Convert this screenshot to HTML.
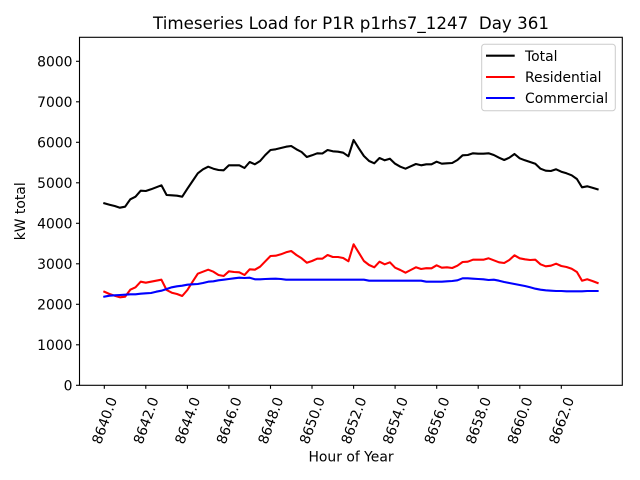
<!DOCTYPE html>
<html><head><meta charset="utf-8"><style>
html,body{margin:0;padding:0;background:#fff;}
svg{display:block;font-family:"DejaVu Sans","Liberation Sans",sans-serif;}
</style></head><body>
<svg width="640" height="480" viewBox="0 0 640 480" xmlns="http://www.w3.org/2000/svg">
<rect width="640" height="480" fill="#fff"/>
<text x="351" y="29" font-size="16.7" text-anchor="middle" fill="#000">Timeseries Load for P1R p1rhs7_1247&#160; Day 361</text>
<g fill="none" stroke-width="2.08" stroke-linejoin="round" stroke-linecap="square">
<polyline stroke="#000" points="104.3,203.3 109.5,204.7 114.7,206 119.9,207.7 125.1,206.7 130.3,199.3 135.5,196.7 140.7,190.7 145.8,191 151.0,189.3 156.2,187.3 161.4,185.3 166.6,195 171.8,195.3 177.0,195.7 182.2,196.7 187.4,188.7 192.6,181 197.8,173.3 203.0,169.3 208.2,166.7 213.4,168.7 218.5,170 223.7,170.3 228.9,165.3 234.1,165.3 239.3,165.3 244.5,168 249.7,162 254.9,164.3 260.1,161 265.3,155 270.5,150 275.7,149.3 280.9,148 286.1,146.7 291.2,146 296.4,149.3 301.6,152 306.8,157 312.0,155.3 317.2,153.3 322.4,153.5 327.6,150 332.8,151.3 338.0,151.7 343.2,152.7 348.4,156.3 353.6,140 358.8,148.3 363.9,156 369.1,161 374.3,163.3 379.5,158 384.7,160.3 389.9,158.7 395.1,163.7 400.3,166.7 405.5,168.7 410.7,166.3 415.9,164 421.1,165.3 426.3,164.3 431.5,164.3 436.6,161.7 441.8,163.7 447.0,163.3 452.2,163 457.4,160 462.6,155.3 467.8,155 473.0,153.3 478.2,153.7 483.4,153.7 488.6,153.3 493.8,155 499.0,157.7 504.2,160 509.3,157.7 514.5,154 519.7,158.3 524.9,160.3 530.1,162 535.3,163.7 540.5,168.7 545.7,170.7 550.9,171 556.1,169.3 561.3,171.7 566.5,173.3 571.7,175.3 576.9,179 582.0,187.3 587.2,186.3 592.4,187.7 597.6,189.3"/>
<polyline stroke="#ff0000" points="104.3,291.7 109.5,294 114.7,295.7 119.9,297.3 125.1,296.7 130.3,289.7 135.5,287.3 140.7,281.7 145.8,282.7 151.0,281.7 156.2,280.7 161.4,279.7 166.6,290 171.8,292.7 177.0,294 182.2,296 187.4,290 192.6,281.7 197.8,273.7 203.0,271.7 208.2,269.7 213.4,271.7 218.5,275 223.7,276 228.9,271.3 234.1,272 239.3,272.3 244.5,275 249.7,269.3 254.9,269.7 260.1,266.7 265.3,261.3 270.5,256 275.7,255.7 280.9,254.3 286.1,252.3 291.2,251 296.4,255 301.6,258.3 306.8,262.7 312.0,261 317.2,258.7 322.4,258.7 327.6,255 332.8,257 338.0,257 343.2,258 348.4,261.3 353.6,244.3 358.8,252.7 363.9,261 369.1,265 374.3,267.3 379.5,261.7 384.7,264.3 389.9,262.3 395.1,267.7 400.3,270 405.5,272.7 410.7,270 415.9,267.3 421.1,269 426.3,268.2 431.5,268.3 436.6,265.3 441.8,267.7 447.0,267.3 452.2,268 457.4,265.7 462.6,262 467.8,261.7 473.0,259.7 478.2,259.7 483.4,259.7 488.6,258.3 493.8,260.3 499.0,262.3 504.2,263 509.3,260 514.5,255.3 519.7,258.3 524.9,259.3 530.1,260 535.3,259.7 540.5,264.3 545.7,266.3 550.9,265.7 556.1,263.7 561.3,266 566.5,267 571.7,268.7 576.9,272 582.0,280.7 587.2,279.3 592.4,281 597.6,283"/>
<polyline stroke="#0000ff" points="104.3,296.7 109.5,295.7 114.7,295.3 119.9,295 125.1,294.7 130.3,294.3 135.5,294.3 140.7,293.7 145.8,293.3 151.0,293 156.2,291.7 161.4,290.7 166.6,289 171.8,287.3 177.0,286.3 182.2,285.7 187.4,284.7 192.6,284.3 197.8,284 203.0,283 208.2,281.7 213.4,281.3 218.5,280.3 223.7,279.7 228.9,279 234.1,278.3 239.3,277.7 244.5,278 249.7,277.7 254.9,279.3 260.1,279.3 265.3,279 270.5,278.8 275.7,278.7 280.9,279 286.1,279.7 291.2,279.7 296.4,279.7 301.6,279.7 306.8,279.7 312.0,279.7 317.2,279.7 322.4,279.7 327.6,279.7 332.8,279.7 338.0,279.7 343.2,279.7 348.4,279.7 353.6,279.7 358.8,279.7 363.9,279.7 369.1,280.7 374.3,280.7 379.5,280.7 384.7,280.7 389.9,280.7 395.1,280.7 400.3,280.7 405.5,280.7 410.7,280.7 415.9,280.7 421.1,280.7 426.3,281.7 431.5,281.7 436.6,281.7 441.8,281.7 447.0,281.3 452.2,281 457.4,280.3 462.6,278.3 467.8,278.3 473.0,278.7 478.2,279 483.4,279.3 488.6,280 493.8,279.7 499.0,280.7 504.2,282 509.3,283 514.5,284 519.7,285 524.9,286 530.1,287.3 535.3,288.7 540.5,289.7 545.7,290.3 550.9,290.7 556.1,291 561.3,291 566.5,291.3 571.7,291.3 576.9,291.3 582.0,291.3 587.2,291 592.4,291 597.6,291"/>
</g>
<rect x="79.5" y="37.3" width="542.8" height="348" fill="none" stroke="#000" stroke-width="1.1"/>
<g stroke="#000" stroke-width="1.1">
<line x1="76" y1="385.3" x2="79.5" y2="385.3"/>
<line x1="76" y1="344.8" x2="79.5" y2="344.8"/>
<line x1="76" y1="304.3" x2="79.5" y2="304.3"/>
<line x1="76" y1="263.8" x2="79.5" y2="263.8"/>
<line x1="76" y1="223.3" x2="79.5" y2="223.3"/>
<line x1="76" y1="182.8" x2="79.5" y2="182.8"/>
<line x1="76" y1="142.3" x2="79.5" y2="142.3"/>
<line x1="76" y1="101.8" x2="79.5" y2="101.8"/>
<line x1="76" y1="61.3" x2="79.5" y2="61.3"/>
<line x1="104.3" y1="385.3" x2="104.3" y2="388.8"/>
<line x1="145.8" y1="385.3" x2="145.8" y2="388.8"/>
<line x1="187.4" y1="385.3" x2="187.4" y2="388.8"/>
<line x1="228.9" y1="385.3" x2="228.9" y2="388.8"/>
<line x1="270.5" y1="385.3" x2="270.5" y2="388.8"/>
<line x1="312.0" y1="385.3" x2="312.0" y2="388.8"/>
<line x1="353.6" y1="385.3" x2="353.6" y2="388.8"/>
<line x1="395.1" y1="385.3" x2="395.1" y2="388.8"/>
<line x1="436.7" y1="385.3" x2="436.7" y2="388.8"/>
<line x1="478.2" y1="385.3" x2="478.2" y2="388.8"/>
<line x1="519.8" y1="385.3" x2="519.8" y2="388.8"/>
<line x1="561.3" y1="385.3" x2="561.3" y2="388.8"/>
</g>
<g font-size="13.9" fill="#000" text-anchor="end">
<text x="72.5" y="390.3">0</text>
<text x="72.5" y="349.8">1000</text>
<text x="72.5" y="309.3">2000</text>
<text x="72.5" y="268.8">3000</text>
<text x="72.5" y="228.3">4000</text>
<text x="72.5" y="187.8">5000</text>
<text x="72.5" y="147.3">6000</text>
<text x="72.5" y="106.8">7000</text>
<text x="72.5" y="66.3">8000</text>
</g>
<g font-size="13.9" fill="#000" text-anchor="middle">
<text transform="translate(104.3,420.5) rotate(-70)" y="5">8640.0</text>
<text transform="translate(145.8,420.5) rotate(-70)" y="5">8642.0</text>
<text transform="translate(187.4,420.5) rotate(-70)" y="5">8644.0</text>
<text transform="translate(228.9,420.5) rotate(-70)" y="5">8646.0</text>
<text transform="translate(270.5,420.5) rotate(-70)" y="5">8648.0</text>
<text transform="translate(312.0,420.5) rotate(-70)" y="5">8650.0</text>
<text transform="translate(353.6,420.5) rotate(-70)" y="5">8652.0</text>
<text transform="translate(395.1,420.5) rotate(-70)" y="5">8654.0</text>
<text transform="translate(436.7,420.5) rotate(-70)" y="5">8656.0</text>
<text transform="translate(478.2,420.5) rotate(-70)" y="5">8658.0</text>
<text transform="translate(519.8,420.5) rotate(-70)" y="5">8660.0</text>
<text transform="translate(561.3,420.5) rotate(-70)" y="5">8662.0</text>
<text x="351" y="461.5">Hour of Year</text>
<text transform="translate(25,211.3) rotate(-90)">kW total</text>
</g>
<rect x="481.7" y="44.3" width="133.6" height="66.4" rx="2.8" ry="2.8" fill="#fff" fill-opacity="0.8" stroke="#cccccc" stroke-width="1"/>
<g stroke-width="2.08">
<line x1="486" y1="55.7" x2="514.7" y2="55.7" stroke="#000"/>
<line x1="486" y1="77" x2="514.7" y2="77" stroke="#ff0000"/>
<line x1="486" y1="98" x2="514.7" y2="98" stroke="#0000ff"/>
</g>
<g font-size="13.9" fill="#000">
<text x="525" y="61">Total</text>
<text x="525" y="82.2">Residential</text>
<text x="525" y="103.2">Commercial</text>
</g>
</svg>
</body></html>
